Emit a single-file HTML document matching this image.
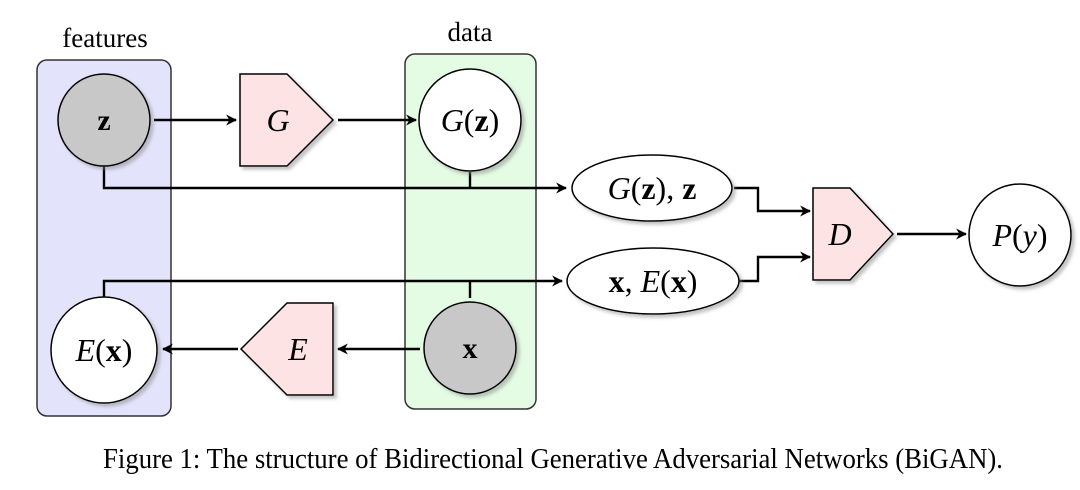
<!DOCTYPE html>
<html><head><meta charset="utf-8"><style>
html,body{margin:0;padding:0;background:#fff;}
svg{display:block;}
text{font-family:"Liberation Serif",serif;fill:#000;}
</style></head><body>
<svg width="1080" height="490" viewBox="0 0 1080 490" xmlns="http://www.w3.org/2000/svg">
<defs>
<marker id="a" viewBox="0 0 10 10" refX="9" refY="5" markerWidth="11" markerHeight="11" orient="auto" markerUnits="userSpaceOnUse"><path d="M0,0 L10,5 L0,10 L3,5 Z" fill="#000"/></marker>
<filter id="s" x="-20%" y="-20%" width="150%" height="150%"><feDropShadow dx="3" dy="3" stdDeviation="1.5" flood-color="#888" flood-opacity="0.5"/></filter>
</defs>
<rect x="37" y="60" width="134" height="356" rx="10" fill="#e3e3fc" stroke="#333" stroke-width="1.5"/>
<rect x="405" y="54" width="131" height="355" rx="10" fill="#e3fce3" stroke="#333" stroke-width="1.5"/>
<text x="105" y="47" font-size="27" text-anchor="middle">features</text>
<text x="470" y="41" font-size="27" text-anchor="middle">data</text>

<g stroke="#000" stroke-width="2.4" fill="none">
<line x1="154" y1="120" x2="236" y2="120" marker-end="url(#a)"/>
<line x1="338" y1="120" x2="416" y2="120" marker-end="url(#a)"/>
<polyline points="104,166 104,188 566,188" marker-end="url(#a)"/>
<line x1="470" y1="172" x2="470" y2="188"/>
<polyline points="104,297 104,281 562,281" marker-end="url(#a)"/>
<line x1="470" y1="281" x2="470" y2="298"/>
<line x1="420" y1="349" x2="338" y2="349" marker-end="url(#a)"/>
<line x1="238" y1="349" x2="163" y2="349" marker-end="url(#a)"/>
<polyline points="734,188 758,188 758,211 810,211" marker-end="url(#a)"/>
<polyline points="738,281 758,281 758,257 810,257" marker-end="url(#a)"/>
<line x1="897" y1="234" x2="966" y2="234" marker-end="url(#a)"/>
</g>

<g stroke="#000" stroke-width="1.5" filter="url(#s)">
<circle cx="104" cy="120" r="46" fill="#c8c8c8"/>
<polygon points="240,74 287,74 333,120 287,166 240,166" fill="#fde3e3"/>
<circle cx="470" cy="120" r="51" fill="#fff"/>
<ellipse cx="652" cy="188" rx="80" ry="33" fill="#fff"/>
<ellipse cx="653" cy="281" rx="86" ry="33" fill="#fff"/>
<circle cx="104" cy="350" r="53" fill="#fff"/>
<polygon points="333,303 287,303 241,349 287,395 333,395" fill="#fde3e3"/>
<circle cx="470" cy="348" r="46" fill="#c8c8c8"/>
<polygon points="813,188 850,188 893,234 850,280 813,280" fill="#fde3e3"/>
<circle cx="1020" cy="235" r="51" fill="#fff"/>
</g>

<g font-size="32" text-anchor="middle">
<text x="104" y="130" font-weight="bold" font-size="30">z</text>
<text x="278" y="131" font-style="italic">G</text>
<text x="470" y="131"><tspan font-style="italic">G</tspan>(<tspan font-weight="bold">z</tspan>)</text>
<text x="652" y="199"><tspan font-style="italic">G</tspan>(<tspan font-weight="bold">z</tspan>), <tspan font-weight="bold">z</tspan></text>
<text x="653" y="292"><tspan font-weight="bold">x</tspan>, <tspan font-style="italic">E</tspan>(<tspan font-weight="bold">x</tspan>)</text>
<text x="104" y="361"><tspan font-style="italic">E</tspan>(<tspan font-weight="bold">x</tspan>)</text>
<text x="298" y="360" font-style="italic">E</text>
<text x="470" y="358" font-weight="bold" font-size="30">x</text>
<text x="840" y="245" font-style="italic">D</text>
<text x="1020" y="246"><tspan font-style="italic">P</tspan>(<tspan font-style="italic">y</tspan>)</text>
</g>

<text x="103" y="468" font-size="28" textLength="900" lengthAdjust="spacingAndGlyphs">Figure 1: The structure of Bidirectional Generative Adversarial Networks (BiGAN).</text>
</svg>
</body></html>
